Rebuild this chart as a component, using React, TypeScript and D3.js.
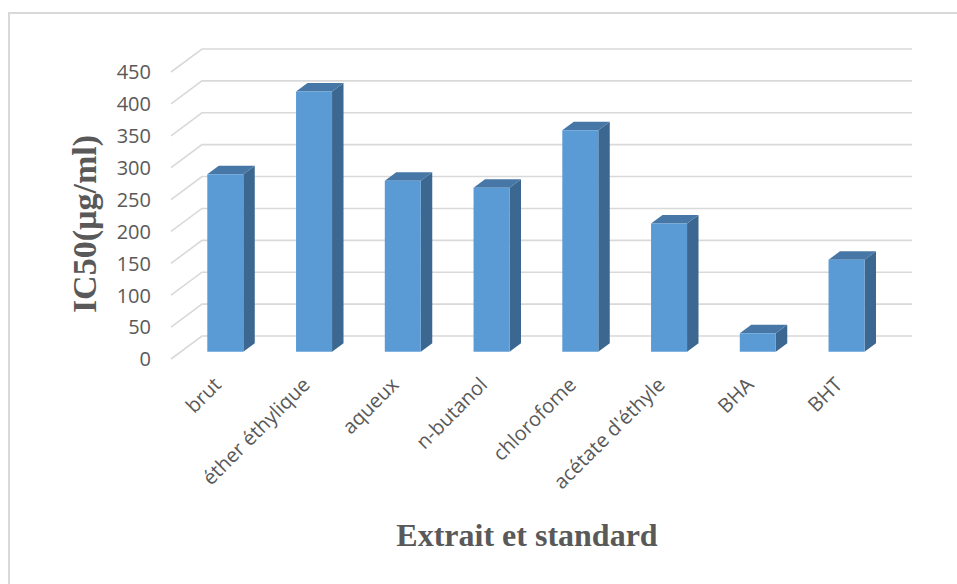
import React from "react";
import * as d3 from "d3";

// Extracts and reference antioxidants
const categories = [
  "brut",
  "éther éthylique",
  "aqueux",
  "n-butanol",
  "chlorofome",
  "acétate d'éthyle",
  "BHA",
  "BHT",
];
// IC50 values (µg/ml)
const ic50 = [278, 408, 268, 257, 347, 201, 29, 144];
const yTicks = [0, 50, 100, 150, 200, 250, 300, 350, 400, 450];

const W = 957;
const H = 584;

// oblique projection: depth vector from the front plane to the back wall
const DEPTH = { dx: 31, dy: -23 };
const BAR_FRONT = 0.32; // depth fraction of the bar front face
const BAR_BACK = 0.69; // depth fraction of the bar back face
const BAR_W = 36;

const COL_FRONT = "#5b9bd5";
const COL_SIDE = "#3b6790";
const COL_TOP = "#4677a6";
const GRID = "#d9d9d9";
const TEXT = "#595959";

export default function App() {
  const x = d3.scaleBand<string>().domain(categories).range([171, 881]).padding(0);
  const y = d3.scaleLinear().domain([0, 450]).range([359, 72]);

  const fx0 = BAR_FRONT * DEPTH.dx;
  const fy0 = BAR_FRONT * DEPTH.dy;
  const sdx = (BAR_BACK - BAR_FRONT) * DEPTH.dx;
  const sdy = (BAR_BACK - BAR_FRONT) * DEPTH.dy;

  const [r0, r1] = x.range();

  return (
    <svg
      width={W}
      height={H}
      style={{ position: "absolute", left: 0, top: 0, background: "#fff" }}
    >
      {/* chart frame */}
      <rect x={9} y={13} width={W + 20} height={H + 20} fill="#fff" stroke={GRID} strokeWidth={2} />

      {/* gridlines: side wall diagonal + back wall horizontal */}
      {yTicks.map((t) => {
        const yy = y(t);
        const p = d3.path();
        p.moveTo(r0, yy);
        p.lineTo(r0 + DEPTH.dx, yy + DEPTH.dy);
        p.lineTo(r1 + DEPTH.dx, yy + DEPTH.dy);
        return <path key={t} d={p.toString()} fill="none" stroke={GRID} strokeWidth={1.6} />;
      })}

      {/* y tick labels */}
      {yTicks.map((t) => (
        <text
          key={"l" + t}
          x={151}
          y={y(t) + 2}
          textAnchor="end"
          dominantBaseline="middle"
          fontFamily="'Open Sans', sans-serif"
          fontSize={20}
          fill={TEXT}
        >
          {t}
        </text>
      ))}

      {/* 3D columns */}
      {categories.map((c, i) => {
        const cx = (x(c) as number) + x.bandwidth() / 2 + fx0;
        const left = cx - BAR_W / 2;
        const right = cx + BAR_W / 2;
        const bottom = y(0) + fy0;
        const top = y(ic50[i]) + fy0;
        const front = `M${left},${top}L${right},${top}L${right},${bottom}L${left},${bottom}Z`;
        const side = `M${right},${top}L${right + sdx},${top + sdy}L${right + sdx},${bottom + sdy}L${right},${bottom}Z`;
        const lid = `M${left},${top}L${left + sdx},${top + sdy}L${right + sdx},${top + sdy}L${right},${top}Z`;
        return (
          <g key={c}>
            <path d={side} fill={COL_SIDE} />
            <path d={lid} fill={COL_TOP} />
            <path d={front} fill={COL_FRONT} />
          </g>
        );
      })}

      {/* category labels */}
      {categories.map((c) => {
        const ax = (x(c) as number) + x.bandwidth() / 2 + 7;
        const ay = 386;
        return (
          <text
            key={"c" + c}
            transform={`translate(${ax},${ay}) rotate(-45)`}
            textAnchor="end"
            fontFamily="'Open Sans', sans-serif"
            fontSize={20}
            fill={TEXT}
          >
            {c}
          </text>
        );
      })}

      {/* axis titles */}
      <text
        x={527}
        y={546}
        textAnchor="middle"
        fontFamily="'Liberation Serif', 'Times New Roman', serif"
        fontWeight="bold"
        fontSize={32}
        fill={TEXT}
      >
        Extrait et standard
      </text>
      <text
        transform={`translate(96,224) rotate(-90)`}
        textAnchor="middle"
        fontFamily="'Liberation Serif', 'Times New Roman', serif"
        fontWeight="bold"
        fontSize={34}
        fill={TEXT}
      >
        IC50(µg/ml)
      </text>
    </svg>
  );
}
